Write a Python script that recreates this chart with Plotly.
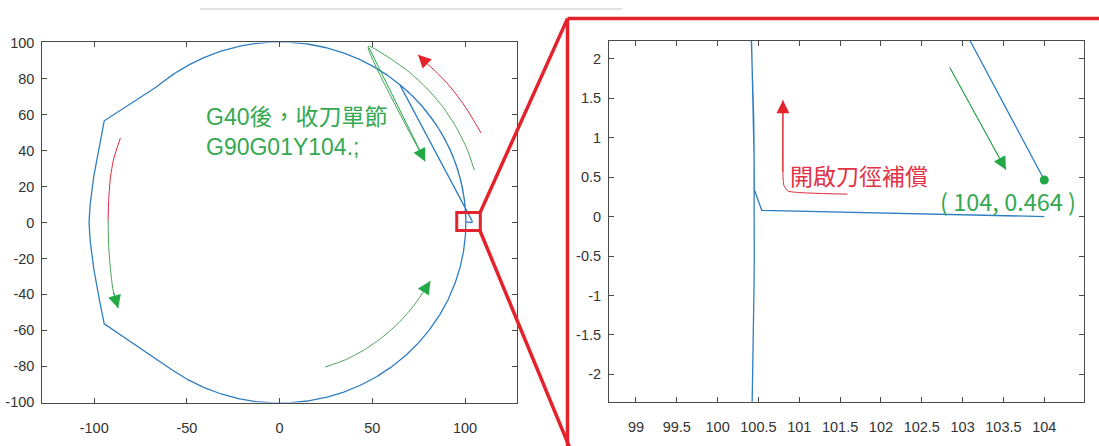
import numpy as np
import plotly.graph_objects as go

W, H = 1099, 446

# ---------------- tool-path geometry ----------------
R_CIRCLE = 100.45                      # programmed circle radius
ENTRY_X = [104.0, 100.54, 100.45]      # approach with cutter compensation on
ENTRY_Y = [0.0, 0.08, 0.34]
ARC1_DEG = [0.19, 131.0]               # first arc (CCW) in degrees
LEFT_X = [-94.6, -97.2, -100.2, -102.2, -102.8, -102.2, -100.2, -97.2, -94.6]
LEFT_Y = [56.6, 43.0, 26.0, 10.0, 0.0, -10.0, -26.0, -43.0, -56.4]
ARC2_DEG = [234.5, 410.0]              # second arc (CCW) in degrees
EXIT_X = [104.0]                       # G40 retract block end point
EXIT_Y = [0.464]
END_PT_X = [104.0]
END_PT_Y = [0.464]

# ---------------- axis ticks ----------------
L_XTICKS = [-100, -50, 0, 50, 100]
L_YTICKS = [-100, -80, -60, -40, -20, 0, 20, 40, 60, 80, 100]
R_XTICKS = [99, 99.5, 100, 100.5, 101, 101.5, 102, 102.5, 103, 103.5, 104]
R_XTEXT = ["99", "99.5", "100", "100.5", "101", "101.5", "102", "102.5", "103", "103.5", "104"]
R_YTICKS = [2, 1.5, 1, 0.5, 0, -0.5, -1, -1.5, -2]
R_YTEXT = ["2", "1.5", "1", "0.5", "0", "-0.5", "-1", "-1.5", "-2"]
L_YTEXT = [str(v) for v in L_YTICKS]
L_XTEXT = [str(v) for v in L_XTICKS]

# ---------------- hand-drawn arrow annotations (data coords) ----------------
RED_TR_X = [108.6, 104.1, 99.8, 95.0, 89.8, 84.1, 78.8, 74.6]
RED_TR_Y = [49.9, 57.7, 64.8, 71.6, 78.1, 84.1, 89.1, 93.4]
GRN_V_X = [105.0, 101.1, 95.3, 88.2, 79.7, 70.1, 59.4, 47.8, 78.5]
GRN_V_Y = [29.1, 40.8, 52.8, 64.1, 74.3, 83.5, 91.4, 98.0, 34.0]
RED_L_X = [-85.9, -89.5, -91.3, -92.2, -92.5]
RED_L_Y = [47.0, 35.4, 24.7, 12.2, 1.4]
GRN_L_X = [-92.5, -92.2, -91.3, -89.8, -87.1]
GRN_L_Y = [1.4, -12.9, -25.4, -37.9, -47.7]
GRN_BR_X = [24.6, 35.6, 45.9, 55.4, 64.2, 72.0, 77.9, 81.3]
GRN_BR_Y = [-80.4, -76.3, -70.7, -63.8, -55.8, -46.7, -38.0, -32.5]
RED_Z_X = [101.59, 101.3, 101.0, 100.86, 100.81, 100.80, 100.80]
RED_Z_Y = [0.285, 0.292, 0.305, 0.325, 0.40, 0.55, 1.474]
GRN_Z_X = [102.84, 103.53]
GRN_Z_Y = [1.896, 0.593]

BLUE = "#2F7EC2"
RED = "#E3222B"
RED_LINE = "#D8283E"
GREEN = "#23A846"
GREEN_LINE = "#4AA35A"
GREEN_TXT = "#35A852"
RED_TXT = "#E23346"
AXC = "#4a4a4a"


def arc(deg_range, r):
    a = np.radians(np.arange(deg_range[0], deg_range[1] + 1e-9, 0.2))
    return list(r * np.cos(a)), list(r * np.sin(a))


a1x, a1y = arc(ARC1_DEG, R_CIRCLE)
a2x, a2y = arc(ARC2_DEG, R_CIRCLE)
path_x = ENTRY_X + a1x + LEFT_X + a2x + EXIT_X
path_y = ENTRY_Y + a1y + LEFT_Y + a2y + EXIT_Y

fig = go.Figure()

for xa, ya in (("x", "y"), ("x2", "y2")):
    fig.add_trace(go.Scatter(x=path_x, y=path_y, mode="lines", xaxis=xa, yaxis=ya,
                             line=dict(color=BLUE, width=1.3), hoverinfo="skip",
                             showlegend=False))

# end point marker on zoom panel
fig.add_trace(go.Scatter(x=END_PT_X, y=END_PT_Y, mode="markers", xaxis="x2", yaxis="y2",
                         marker=dict(color=GREEN, size=9), showlegend=False))

# arrow bodies
bodies = [
    (RED_TR_X, RED_TR_Y, RED_LINE, "x", "y"),
    (GRN_V_X, GRN_V_Y, GREEN_LINE, "x", "y"),
    (RED_L_X, RED_L_Y, RED_LINE, "x", "y"),
    (GRN_L_X, GRN_L_Y, GREEN_LINE, "x", "y"),
    (GRN_BR_X, GRN_BR_Y, GREEN_LINE, "x", "y"),
    (RED_Z_X, RED_Z_Y, RED_LINE, "x2", "y2"),
    (GRN_Z_X, GRN_Z_Y, GREEN_LINE, "x2", "y2"),
]
for bx, by, c, xa, ya in bodies:
    fig.add_trace(go.Scatter(x=bx, y=by, mode="lines", xaxis=xa, yaxis=ya,
                             line=dict(color=c, width=1, shape="spline", smoothing=0.6),
                             hoverinfo="skip", showlegend=False))

annotations = []
# arrow heads: (body x, body y, colour, axes)
heads = [
    (RED_TR_X, RED_TR_Y, RED, "x", "y"),
    (GRN_V_X, GRN_V_Y, GREEN, "x", "y"),
    (GRN_L_X, GRN_L_Y, GREEN, "x", "y"),
    (GRN_BR_X, GRN_BR_Y, GREEN, "x", "y"),
    (RED_Z_X, RED_Z_Y, RED, "x2", "y2"),
    (GRN_Z_X, GRN_Z_Y, GREEN, "x2", "y2"),
]
for bx, by, c, xa, ya in heads:
    annotations.append(dict(x=bx[-1], y=by[-1], ax=bx[-2], ay=by[-2], xref=xa, yref=ya,
                            axref=xa, ayref=ya, text="", showarrow=True, arrowhead=2,
                            arrowsize=2.6, arrowwidth=1, arrowcolor=c))

CJK = "Noto Sans CJK TC, Noto Sans CJK SC, sans-serif"
LAT_CJK = "Liberation Sans, Noto Sans CJK TC, sans-serif"
annotations += [
    dict(x=204 / W, y=1 - 128.5 / H, xref="paper", yref="paper", xanchor="left",
         yanchor="middle", align="left", text="G40後，收刀單節<br>G90G01Y104.;",
         showarrow=False, font=dict(family=LAT_CJK, size=23, color=GREEN_TXT)),
    dict(x=788 / W, y=1 - 173 / H, xref="paper", yref="paper", xanchor="left",
         yanchor="middle", text="開啟刀徑補償", showarrow=False,
         font=dict(family=CJK, size=23, color=RED_TXT)),
    dict(x=1007.5 / W, y=1 - 200 / H, xref="paper", yref="paper", xanchor="center",
         yanchor="middle", text="( 104, 0.464 )", showarrow=False,
         font=dict(family=CJK, size=23.5, color=GREEN_TXT)),
]

shapes = [
    # light grey screenshot border at top
    dict(type="line", xref="paper", yref="paper", x0=200 / W, x1=622 / W,
         y0=1 - 1 / H, y1=1 - 1 / H, line=dict(color="#e2e2e2", width=2)),
    # small zoom box on left plot
    dict(type="rect", xref="x", yref="y", x0=95.5, x1=108.2, y0=-4.5, y1=5.6,
         line=dict(color=RED, width=3)),
    # connector lines
    dict(type="line", xref="paper", yref="paper", x0=480 / W, y0=1 - 212.5 / H,
         x1=567.5 / W, y1=1 - 11 / H, line=dict(color=RED, width=3.5)),
    dict(type="line", xref="paper", yref="paper", x0=480 / W, y0=1 - 231 / H,
         x1=570.5 / W, y1=1 - 458 / H, line=dict(color=RED, width=3.5)),
    # big frame around zoom panel
    dict(type="line", xref="paper", yref="paper", x0=567.5 / W, y0=1 - 11 / H,
         x1=1110 / W, y1=1 - 11 / H, line=dict(color=RED, width=3.5)),
    dict(type="line", xref="paper", yref="paper", x0=567.5 / W, y0=1 - 11 / H,
         x1=567.5 / W, y1=1 - 460 / H, line=dict(color=RED, width=3.5)),
]

axis_common = dict(showline=True, mirror="allticks", linecolor=AXC, linewidth=1,
                   ticks="inside", ticklen=5, tickcolor=AXC, tickwidth=1,
                   showgrid=False, zeroline=False,
                   tickfont=dict(family="Liberation Sans, Arial, sans-serif", size=14.5,
                                 color="#333333"))

fig.update_layout(
    width=W, height=H, margin=dict(l=0, r=0, t=0, b=0),
    paper_bgcolor="white", plot_bgcolor="white", showlegend=False,
    xaxis=dict(domain=[42.3 / W, 517 / W], range=[-128, 128], tickmode="array",
               tickvals=L_XTICKS, ticktext=L_XTEXT, anchor="y", ticklabelstandoff=12,
               **axis_common),
    yaxis=dict(domain=[1 - 409.3 / H, 1 - 35.7 / H], range=[-100.2, 100.2], tickmode="array",
               tickvals=L_YTICKS, ticktext=L_YTEXT, anchor="x", ticklabelstandoff=4,
               **axis_common),
    xaxis2=dict(domain=[609 / W, 1084.3 / W], range=[98.67, 104.49], tickmode="array",
                tickvals=R_XTICKS, ticktext=R_XTEXT, anchor="y2", ticklabelstandoff=12,
                **axis_common),
    yaxis2=dict(domain=[1 - 408.3 / H, 1 - 34 / H], range=[-2.346, 2.229], tickmode="array",
                tickvals=R_YTICKS, ticktext=R_YTEXT, anchor="x2", ticklabelstandoff=4,
                **axis_common),
    annotations=annotations,
    shapes=shapes,
)

fig.write_html("out.html")
